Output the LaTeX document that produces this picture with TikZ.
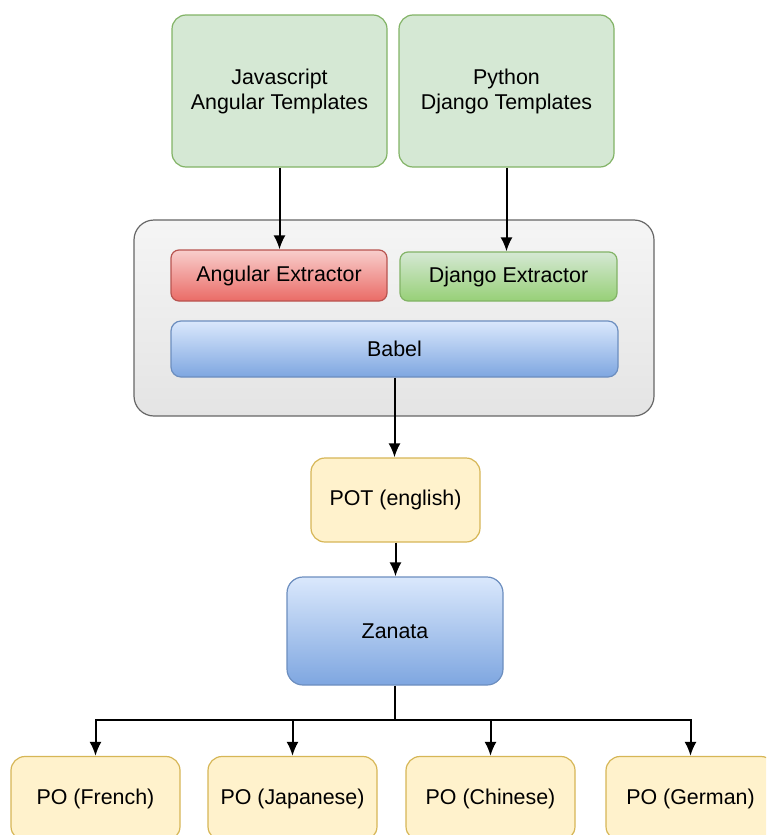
\documentclass[tikz,border=0pt]{standalone}
\usepackage{fontspec}
\setmainfont{Liberation Sans}
\usepackage{tikz}
\usetikzlibrary{calc, arrows, arrows.meta, shapes}
\tikzset{>=latex}
\definecolor{mygreen}{RGB}{213, 232, 212}
\definecolor{mygreenline}{RGB}{130, 179, 102}
\definecolor{mygreendark}{RGB}{151, 208, 119}
\definecolor{myred}{RGB}{248, 206, 204}
\definecolor{myreddark}{RGB}{234, 107, 102}
\definecolor{myredline}{RGB}{184, 84, 80}
\definecolor{myblue}{RGB}{218, 232, 252}
\definecolor{mybluedark}{RGB}{126, 166, 224}
\definecolor{myblueline}{RGB}{108, 142, 191}
\definecolor{myyellow}{RGB}{255, 242, 204}
\definecolor{myyellowline}{RGB}{214, 182, 86}
\definecolor{mygray}{RGB}{245, 245, 245}
\definecolor{mygraydark}{RGB}{228, 228, 228}
\definecolor{mygrayline}{RGB}{102, 102, 102}
\tikzset{
  every node/.style = {font=\fontsize{10.7}{12.5}\selectfont, align=center},
  arr/.style = {-{Latex[length=7pt, width=6pt]}, line width=1pt},
  tmplbox/.style = {draw=mygreenline, fill=mygreen, line width=0.6pt, rounded corners=7pt,
    minimum width=107.5pt, minimum height=76pt},
  redbox/.style = {draw=myredline, top color=myred, bottom color=myreddark, line width=0.6pt,
    rounded corners=4pt, minimum width=108pt, minimum height=25.5pt},
  greenbox/.style = {draw=mygreenline, top color=mygreen, bottom color=mygreendark, line width=0.6pt,
    rounded corners=4pt, minimum width=108.5pt, minimum height=24.5pt},
  bluebox/.style = {draw=myblueline, top color=myblue, bottom color=mybluedark, line width=0.6pt,
    rounded corners=5pt},
  pobox/.style = {draw=myyellowline, fill=myyellow, line width=0.6pt, rounded corners=7pt,
    minimum width=84.5pt, minimum height=42pt}
}

\begin{document}
\begin{tikzpicture}[x=0.5pt, y=-0.5pt]
\clip (0, 0) rectangle (766, 835);
% templates
\node[tmplbox] (js) at (279.5, 91) {Javascript\\Angular Templates};
\node[tmplbox] (py) at (506.5, 91) {Python\\Django Templates};
% extraction
\node[draw=mygrayline, top color=mygray, bottom color=mygraydark, line width=0.6pt,
  rounded corners=10pt, minimum width=260pt, minimum height=98pt] (extract) at (394, 318) {};
\node[redbox] (ang) at (279, 275.5) {Angular Extractor};
\node[greenbox] (dj) at (508.5, 276.5) {Django Extractor};
\node[bluebox, minimum width=223.5pt, minimum height=28pt] (babel) at (394.5, 349) {Babel};
% translation
\node[pobox] (pot) at (395.5, 500) {POT (english)};
\node[bluebox, rounded corners=8pt, minimum width=108pt, minimum height=54pt] (zanata) at (395, 631) {Zanata};
\node[pobox] (fr) at (95.5, 798.5) {PO (French)};
\node[pobox] (ja) at (292.5, 798.5) {PO (Japanese)};
\node[pobox] (zh) at (490.5, 798.5) {PO (Chinese)};
\node[pobox] (de) at (690.5, 798.5) {PO (German)};
\coordinate (split) at (395, 720);
% arrows
\draw[arr] (js.south) -- (js.south |- ang.north);
\draw[arr] (py.south) -- (py.south |- dj.north);
\draw[arr] (babel.south) -- (babel.south |- pot.north);
\draw[arr] (pot.south) -- (pot.south |- zanata.north);
\draw[line width=1pt] (zanata.south) -- (split);
\draw[arr] (split) -| (fr.north);
\draw[arr] (split) -| (ja.north);
\draw[arr] (split) -| (zh.north);
\draw[arr] (split) -| (de.north);
\end{tikzpicture}
\end{document}
